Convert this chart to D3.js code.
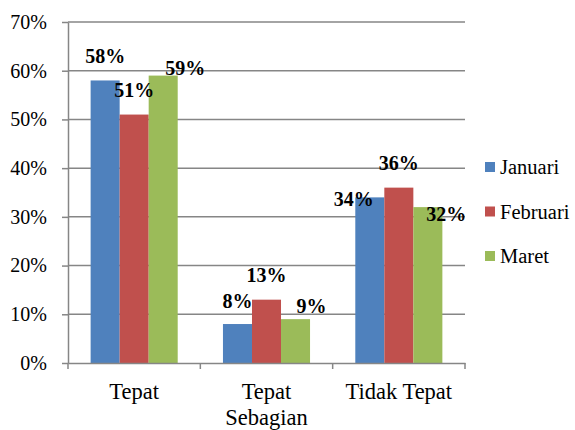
<!DOCTYPE html>
<html>
<head>
<meta charset="utf-8">
<script src="https://cdn.jsdelivr.net/npm/d3@7"></script>
<style>
  body { margin: 0; background: #fff; }
  .grid line { stroke: #868686; stroke-width: 1.5; }
  .axis path, .axis line { stroke: #868686; stroke-width: 1.5; }
  .axis text { fill: #000; }
</style>
</head>
<body>
<div id="chart"></div>
<script>
const categories = ['Tepat', 'Tepat Sebagian', 'Tidak Tepat'];
const series = ['Januari', 'Februari', 'Maret'];
const januari = [0.58, 0.08, 0.34];
const februari = [0.51, 0.13, 0.36];
const maret = [0.59, 0.09, 0.32];
const yTicks = [0, 0.1, 0.2, 0.3, 0.4, 0.5, 0.6, 0.7];
const colors = ['#4F81BD', '#C0504D', '#9BBB59'];
const serif = '"Liberation Serif", "Times New Roman", serif';

// Excel placed a few data labels off-centre; relative nudges [dx, dy] from default spot
const labelNudge = {
  'Tepat|Maret': [22, 16.5],
  'Tepat Sebagian|Januari': [0, 1.5],
  'Tepat Sebagian|Maret': [16, 11.5],
  'Tidak Tepat|Januari': [-16, 26.5],
  'Tidak Tepat|Maret': [18.5, 31.5]
};

const values = [januari, februari, maret];
const width = 575, height = 430;
const margin = {top: 22, right: 110, bottom: 67, left: 68};
const plotW = width - margin.left - margin.right;
const plotH = height - margin.top - margin.bottom;

const svg = d3.select('#chart')
  .append('svg')
  .attr('width', width)
  .attr('height', height)
  .attr('font-family', serif);
const g = svg.append('g')
  .attr('transform', `translate(${margin.left},${margin.top})`);

const x0 = d3.scaleBand()
  .domain(categories)
  .range([0, plotW]);
const x1 = d3.scaleBand()
  .domain(series)
  .range([x0.bandwidth() * 0.171, x0.bandwidth() * 0.829]);
const y = d3.scaleLinear()
  .domain([0, 0.7])
  .range([plotH, 0]);

// Grid
g.append('g')
  .attr('class', 'grid')
  .selectAll('line')
  .data(yTicks.slice(1))
  .enter().append('line')
  .attr('x1', 0)
  .attr('x2', plotW)
  .attr('y1', d => y(d))
  .attr('y2', d => y(d));

// Bars
const rows = [];
categories.forEach((c, i) => {
  series.forEach((s, j) => {
    rows.push({cat: c, ser: s, j, v: values[j][i]});
  });
});

g.append('g')
  .selectAll('rect')
  .data(rows)
  .enter().append('rect')
  .attr('x', d => x0(d.cat) + x1(d.ser))
  .attr('y', d => y(d.v))
  .attr('width', x1.bandwidth())
  .attr('height', d => plotH - y(d.v))
  .style('fill', d => colors[d.j]);

// Axes
g.append('g')
  .attr('class', 'axis')
  .call(d3.axisLeft(y)
        .tickValues(yTicks)
        .tickSize(6)
        .tickSizeOuter(0)
        .tickPadding(15)
        .tickFormat(d3.format('.0%')))
  .attr('font-family', serif)
  .call(a => a.selectAll('text').style('font-size', '20px').style('font-family', serif));

const xAxis = g.append('g')
  .attr('class', 'axis')
  .attr('transform', `translate(0,${plotH})`)
  .call(d3.axisBottom(x0).tickSize(0).tickSizeOuter(0).tickPadding(20))
  .attr('font-family', serif);
xAxis.selectAll('text')
  .style('font-size', '22.5px')
  .style('font-family', serif)
  .call(wrap, x0.bandwidth() - 4);
// category separators
xAxis.selectAll('.sep')
  .data(d3.range(categories.length + 1))
  .enter().append('line')
  .attr('class', 'sep')
  .attr('x1', i => i * x0.bandwidth())
  .attr('x2', i => i * x0.bandwidth())
  .attr('y1', 0)
  .attr('y2', 6);

// Data labels
g.append('g')
  .selectAll('text')
  .data(rows)
  .enter().append('text')
  .attr('text-anchor', 'middle')
  .style('font-family', serif)
  .style('font-size', '20px')
  .style('font-weight', 'bold')
  .attr('x', d => x0(d.cat) + x1(d.ser) + x1.bandwidth() / 2 + (labelNudge[d.cat + '|' + d.ser] || [0, 0])[0])
  .attr('y', d => y(d.v) - 17.5 + (labelNudge[d.cat + '|' + d.ser] || [0, 0])[1])
  .text(d => d3.format('.0%')(d.v));

// Legend
const legend = svg.append('g')
  .selectAll('g')
  .data(series)
  .enter().append('g')
  .attr('transform', (_, i) => `translate(485,${167 + 44.5 * i})`);
legend.append('rect')
  .attr('y', -5)
  .attr('width', 10)
  .attr('height', 10)
  .style('fill', (_, i) => colors[i]);
legend.append('text')
  .attr('x', 15)
  .attr('dy', '.35em')
  .style('font-family', serif)
  .style('font-size', '20.5px')
  .text(d => d);

function wrap(text, w) {
  text.each(function() {
    const t = d3.select(this);
    const words = t.text().split(/\s+/);
    const dy = parseFloat(t.attr('dy')) || 0;
    const yy = t.attr('y');
    let line = [];
    let lineNo = 0;
    let tspan = t.text(null).append('tspan').attr('x', 0).attr('y', yy).attr('dy', dy + 'em');
    for (const word of words) {
      line.push(word);
      tspan.text(line.join(' '));
      if (tspan.node().getComputedTextLength() > w && line.length > 1) {
        line.pop();
        tspan.text(line.join(' '));
        line = [word];
        lineNo++;
        tspan = t.append('tspan').attr('x', 0).attr('y', yy)
          .attr('dy', (lineNo * 1.15 + dy) + 'em').text(word);
      }
    }
  });
}
</script>
</body>
</html>
